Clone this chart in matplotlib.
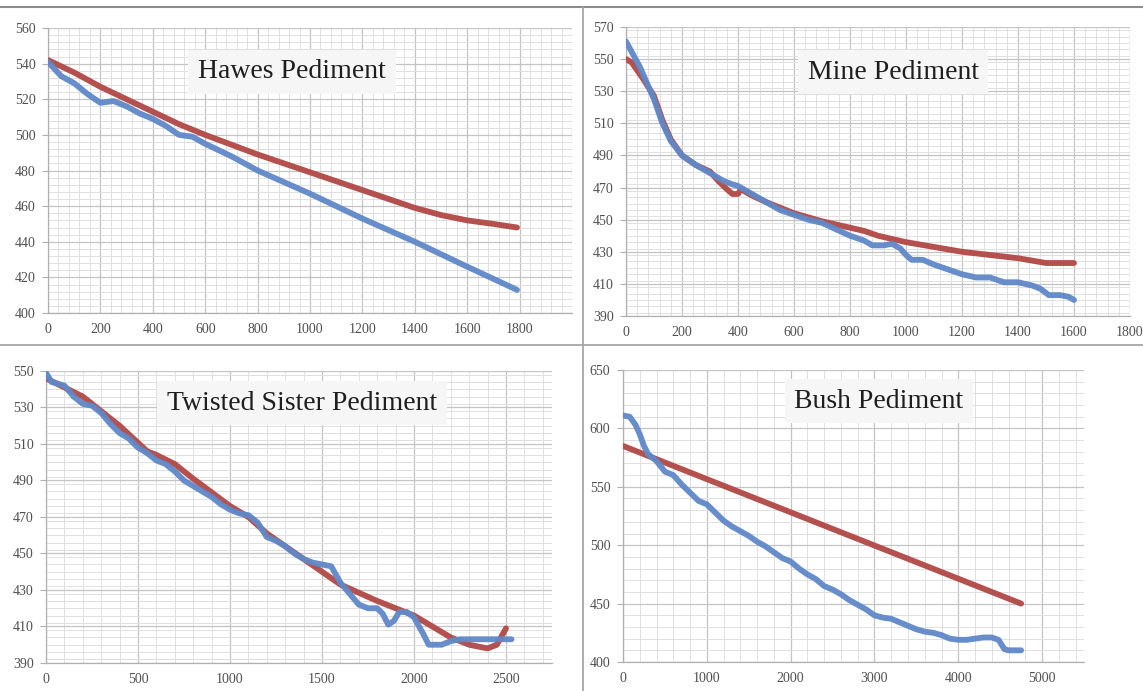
import matplotlib
matplotlib.use("Agg")
import matplotlib.pyplot as plt
from matplotlib.ticker import MultipleLocator, FixedLocator
from matplotlib.lines import Line2D

# ---------------- data ----------------
hawes_blue_x = [0, 50, 100, 150, 200, 250, 300, 350, 400, 450, 500, 550, 600, 700, 800, 1000, 1200, 1400, 1600, 1790]
hawes_blue_y = [541, 533, 529, 523, 518, 519, 516, 512, 509, 505, 500, 499, 495, 488, 480, 467, 453, 440, 426, 413]
hawes_red_x = [0, 100, 200, 300, 400, 500, 600, 800, 1000, 1200, 1400, 1500, 1600, 1700, 1790]
hawes_red_y = [542, 535, 527, 520, 513, 506, 500, 489, 479, 469, 459, 455, 452, 450, 448]

mine_blue_x = [0, 50, 100, 130, 160, 200, 250, 300, 350, 380, 400, 420, 450, 500, 550, 600, 650, 700, 750, 800,
               850, 880, 920, 950, 980, 1000, 1020, 1060, 1100, 1150, 1200, 1250, 1300, 1350, 1400, 1450, 1480,
               1510, 1550, 1580, 1600]
mine_blue_y = [561, 545, 525, 510, 499, 490, 484, 479, 474, 472, 471, 469, 466, 461, 456, 453, 450, 448, 444, 440,
               437, 434, 434, 435, 432, 428, 425, 425, 422, 419, 416, 414, 414, 411, 411, 409, 407,
               403, 403, 402, 400]
mine_red_x = [0, 20, 60, 100, 130, 160, 200, 250, 300, 330, 360, 380, 400, 410, 450, 500, 600, 700, 800, 850, 900,
              1000, 1100, 1200, 1300, 1400, 1500, 1600]
mine_red_y = [550, 548, 538, 527, 512, 500, 490, 484, 480, 474, 469, 466, 466, 469, 465, 461, 454, 449, 445, 443, 440,
              436, 433, 430, 428, 426, 423, 423]

twist_blue_x = [0, 30, 100, 150, 200, 250, 300, 350, 400, 450, 500, 550, 600, 650, 700, 750, 800, 850, 900, 950,
                1000, 1050, 1100, 1150, 1200, 1250, 1300, 1350, 1400, 1450, 1500, 1550, 1600, 1650, 1700, 1750,
                1800, 1830, 1860, 1890, 1920, 1960, 2000, 2050, 2080, 2150, 2200, 2250, 2300, 2400, 2530]
twist_blue_y = [549, 544, 542, 536, 532, 531, 527, 521, 516, 513, 508, 505, 501, 499, 495, 490, 487, 484, 481, 477,
                474, 472, 471, 467, 459, 457, 454, 450, 447, 445, 444, 443, 434, 428, 422, 420,
                420, 417, 411, 413, 418, 418, 415, 406, 400, 400, 402, 403, 403, 403, 403]
twist_red_x = [0, 200, 400, 550, 600, 700, 800, 1000, 1100, 1200, 1400, 1500, 1600, 1800, 2000, 2100, 2200, 2300,
               2400, 2450, 2500]
twist_red_y = [546, 536, 520, 506, 504, 499, 491, 476, 470, 461, 447, 440, 433, 424, 416, 410, 404, 400,
               398, 400, 409]

bush_blue_x = [0, 80, 150, 200, 250, 300, 400, 500, 600, 700, 800, 900, 1000, 1100, 1200, 1300, 1400, 1500, 1600,
               1700, 1800, 1900, 2000, 2100, 2200, 2300, 2400, 2500, 2600, 2700, 2800, 2900, 3000, 3100, 3200,
               3300, 3400, 3500, 3600, 3700, 3800, 3900, 4000, 4100, 4200, 4300, 4400, 4480, 4550, 4600, 4750]
bush_blue_y = [611, 610, 603, 595, 585, 578, 572, 563, 560, 552, 545, 538, 535, 528, 521, 516, 512, 508, 503,
               499, 494, 489, 486, 480, 475, 471, 465, 462, 458, 453, 449, 445, 440, 438, 437,
               434, 431, 428, 426, 425, 423, 420, 419, 419, 420, 421, 421, 419, 411, 410, 410]
bush_red_x = [0, 4750]
bush_red_y = [585, 450]

titles = ["Hawes Pediment", "Mine Pediment", "Twisted Sister Pediment", "Bush Pediment"]

hawes_yticks = list(range(400, 561, 20))
mine_yticks = list(range(390, 571, 20))
twist_yticks = list(range(390, 551, 20))
bush_yticks = list(range(400, 651, 50))

# ---------------- style ----------------
W, H = 1143, 691
BLUE = "#5f88c8"
RED = "#b4514f"
SERIF = ["Liberation Serif", "DejaVu Serif"]

fig = plt.figure(figsize=(W / 100, H / 100), dpi=100)
fig.patch.set_facecolor("white")


def px_axes(left, top, right, bottom):
    return fig.add_axes([left / W, 1 - bottom / H, (right - left) / W, (bottom - top) / H])


def style(ax, xlim, ylim, xmaj, xmin, yticks, ymin, xlabels_max):
    ax.set_xlim(*xlim)
    ax.set_ylim(*ylim)
    ax.xaxis.set_major_locator(MultipleLocator(xmaj))
    ax.xaxis.set_minor_locator(MultipleLocator(xmin))
    ax.yaxis.set_major_locator(FixedLocator(yticks))
    ax.yaxis.set_minor_locator(MultipleLocator(ymin))
    ax.grid(which="minor", color="#e0e0e0", lw=0.7)
    ax.grid(which="major", color="#c4c4c4", lw=0.9)
    ax.set_axisbelow(True)
    for s in ["top", "right"]:
        ax.spines[s].set_visible(False)
    for s in ["left", "bottom"]:
        ax.spines[s].set_color("#b0b0b0")
        ax.spines[s].set_linewidth(0.9)
    ax.tick_params(which="both", length=0)
    ax.tick_params(axis="y", which="major", length=4, color="#b0b0b0", pad=5)
    ax.tick_params(axis="x", which="major", pad=7)
    ax.tick_params(labelsize=10, labelcolor="#505050")
    for lab in ax.get_xticklabels() + ax.get_yticklabels():
        lab.set_family(SERIF)
    ax.xaxis.set_major_formatter(
        matplotlib.ticker.FuncFormatter(lambda v, p: f"{int(round(v))}" if v <= xlabels_max + 1e-6 else ""))


def draw(ax, bx, by, rx, ry):
    ax.plot(rx, ry, color=RED, lw=4.2, solid_capstyle="round", solid_joinstyle="round", zorder=3)
    ax.plot(bx, by, color=BLUE, lw=4.2, solid_capstyle="round", solid_joinstyle="round", zorder=4, alpha=0.95)


def title(ax, txt, xf, yf):
    ax.text(xf, yf, txt, transform=ax.transAxes, ha="center", va="center", fontsize=20,
            family=SERIF, color="#1e1e1e", zorder=6,
            bbox=dict(boxstyle="square,pad=0.35", facecolor="#f6f6f6", edgecolor="none"))


# Top-left
ax1 = px_axes(48, 28, 572, 313)
style(ax1, (0, 2000), (400, 560), 200, 40, hawes_yticks, 4, 1800)
draw(ax1, hawes_blue_x, hawes_blue_y, hawes_red_x, hawes_red_y)
title(ax1, titles[0], (292 - 48) / 524, 1 - (72 - 28) / 285)

# Top-right
ax2 = px_axes(626, 27, 1130, 316)
style(ax2, (0, 1800), (390, 570), 200, 40, mine_yticks, 4, 1800)
draw(ax2, mine_blue_x, mine_blue_y, mine_red_x, mine_red_y)
title(ax2, titles[1], (893 - 626) / 504, 1 - (72 - 27) / 289)

# Bottom-left
ax3 = px_axes(46, 371, 552, 663)
style(ax3, (0, 2750), (390, 550), 500, 100, twist_yticks, 4, 2500)
draw(ax3, twist_blue_x, twist_blue_y, twist_red_x, twist_red_y)
title(ax3, titles[2], (302 - 46) / 506, 1 - (403 - 371) / 292)

# Bottom-right
ax4 = px_axes(623, 370, 1084, 662)
style(ax4, (0, 5500), (400, 650), 1000, 200, bush_yticks, 10, 5000)
draw(ax4, bush_blue_x, bush_blue_y, bush_red_x, bush_red_y)
title(ax4, titles[3], (879 - 623) / 461, 1 - (401 - 370) / 292)

# panel dividers
fig.add_artist(Line2D([0, 1], [1 - 7 / H, 1 - 7 / H], transform=fig.transFigure, color="#8c8c8c", lw=1.5))
fig.add_artist(Line2D([0, 1], [1 - 345 / H, 1 - 345 / H], transform=fig.transFigure, color="#a0a0a0", lw=1.2))
fig.add_artist(Line2D([583 / W, 583 / W], [0, 1 - 7 / H], transform=fig.transFigure, color="#a0a0a0", lw=1.2))

fig.savefig("out.png", dpi=100, facecolor="white")
